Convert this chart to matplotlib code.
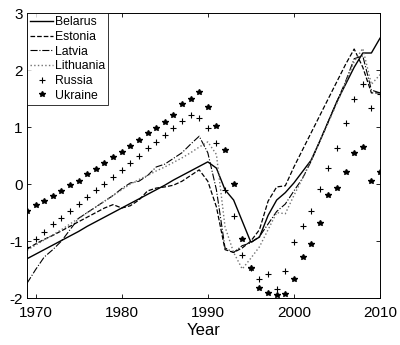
import matplotlib
matplotlib.use("Agg")
import matplotlib.pyplot as plt

plt.rcParams["font.family"] = ["Liberation Sans", "DejaVu Sans"]
plt.rcParams["axes.unicode_minus"] = False

years = list(range(1969, 2011))

belarus = [-1.31, -1.23, -1.15, -1.07, -0.99, -0.91, -0.83, -0.74, -0.66, -0.58,
           -0.50, -0.42, -0.34, -0.26, -0.18, -0.10, -0.02, 0.07, 0.15, 0.23,
           0.31, 0.39, 0.28, -0.10, -0.28, -0.65, -1.02, -0.93, -0.55, -0.28,
           -0.15, 0.02, 0.22, 0.42, 0.75, 1.10, 1.45, 1.75, 2.05, 2.30,
           2.30, 2.56]
estonia = [-1.14, -1.05, -0.97, -0.90, -0.82, -0.74, -0.66, -0.58, -0.50, -0.42,
           -0.36, -0.42, -0.38, -0.28, -0.12, -0.07, -0.05, -0.02, 0.05, 0.15,
           0.25, 0.05, -0.40, -1.15, -1.20, -1.12, -1.00, -0.80, -0.30, -0.05,
           -0.03, 0.30, 0.60, 0.90, 1.20, 1.50, 1.80, 2.10, 2.37, 2.05,
           1.60, 1.60]
latvia = [-1.74, -1.50, -1.28, -1.15, -1.00, -0.80, -0.60, -0.50, -0.40, -0.30,
          -0.20, -0.08, 0.02, 0.05, 0.15, 0.30, 0.35, 0.45, 0.55, 0.70,
          0.84, 0.55, -0.10, -1.12, -1.20, -1.08, -1.03, -0.92, -0.70, -0.48,
          -0.35, -0.12, 0.10, 0.40, 0.75, 1.10, 1.45, 1.80, 2.20, 2.25,
          1.65, 1.60]
lithuania = [-1.16, -1.07, -0.98, -0.89, -0.80, -0.70, -0.60, -0.50, -0.40, -0.30,
             -0.20, -0.10, 0.00, 0.08, 0.15, 0.23, 0.30, 0.38, 0.46, 0.55,
             0.65, 0.74, 0.52, -0.75, -1.20, -1.49, -1.30, -1.10, -0.80, -0.50,
             -0.52, -0.20, 0.10, 0.42, 0.75, 1.08, 1.42, 1.78, 2.15, 2.38,
             1.75, 1.92]
russia = [-1.10, -0.96, -0.84, -0.70, -0.59, -0.47, -0.35, -0.22, -0.10, 0.01,
          0.13, 0.25, 0.37, 0.50, 0.63, 0.73, 0.87, 0.98, 1.10, 1.22,
          1.16, 0.98, 0.72, -0.10, -0.56, -1.25, -1.47, -1.67, -1.58, -1.84,
          -1.52, -1.02, -0.73, -0.47, -0.09, 0.29, 0.64, 1.07, 1.50, 1.76,
          1.33, 1.58]
ukraine = [-0.47, -0.37, -0.30, -0.21, -0.12, -0.02, 0.05, 0.17, 0.26, 0.37,
           0.47, 0.56, 0.67, 0.77, 0.89, 0.98, 1.09, 1.21, 1.40, 1.49,
           1.62, 1.35, 1.02, 0.60, 0.00, -0.97, -1.47, -1.82, -1.91, -1.95,
           -1.93, -1.66, -1.28, -1.05, -0.68, -0.19, -0.07, 0.22, 0.54, 0.65,
           0.05, 0.22]

fig = plt.figure(figsize=(4.0, 3.45), dpi=100)
ax = fig.add_axes([0.0675, 0.136, 0.8825, 0.826])

ax.plot(years, belarus, "-", color="black", lw=1.0, label="Belarus")
ax.plot(years, estonia, "--", color="black", lw=0.9, label="Estonia")
ax.plot(years, latvia, "-.", color="black", lw=0.8, label="Latvia")
ax.plot(years, lithuania, ":", color="0.45", lw=1.0, label="Lithuania")
ax.plot(years, russia, "+", color="black", ms=4.5, mew=0.8, linestyle="none", label="Russia")
ax.plot(years, ukraine, "*", color="black", ms=4, linestyle="none", label="Ukraine")

ax.set_xlim(1969, 2010)
ax.set_ylim(-2, 3)
ax.set_xticks([1970, 1980, 1990, 2000, 2010])
ax.set_yticks([-2, -1, 0, 1, 2, 3])
ax.tick_params(direction="in", top=True, right=True, labelsize=11, length=3, width=0.6)
ax.tick_params(axis="x", pad=6)
ax.tick_params(axis="y", pad=3)
for s in ax.spines.values():
    s.set_linewidth(0.7)
ax.set_xlabel("Year", fontsize=12, labelpad=2)

leg = ax.legend(loc="upper left", fontsize=8.8, frameon=True, fancybox=False,
                handlelength=1.9, handletextpad=0.1, borderpad=0.25,
                labelspacing=0.22, borderaxespad=0.0, edgecolor="black")
leg.get_frame().set_linewidth(0.7)

fig.savefig("out.png", dpi=100)
